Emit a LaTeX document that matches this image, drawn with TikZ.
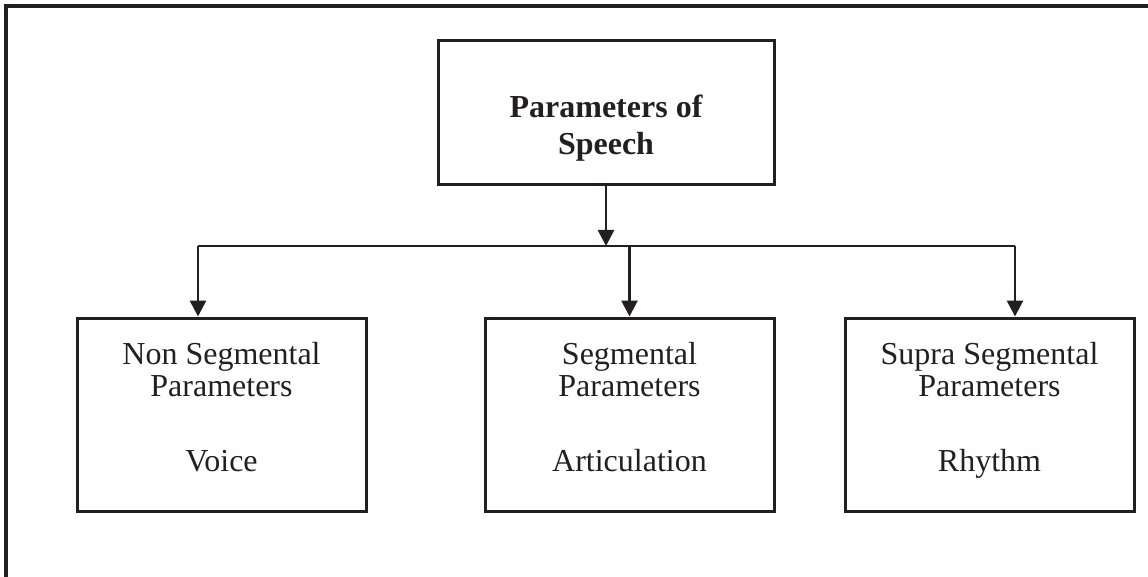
\documentclass[tikz,border=0pt]{standalone}
\usepackage{fontspec}
\setmainfont{Liberation Serif}
\usetikzlibrary{arrows.meta}
\definecolor{ink}{HTML}{231F20}
\begin{document}
\begin{tikzpicture}[x=1pt,y=-1pt,
  boxnode/.style={draw=ink, line width=3pt, inner sep=0pt, rectangle,
    minimum width=289pt, minimum height=193pt},
  topnode/.style={draw=ink, line width=3pt, inner sep=0pt, rectangle,
    minimum width=336pt, minimum height=144pt},
  lbl/.style={anchor=base, inner sep=0pt, text=ink,
    font=\fontsize{32}{36}\selectfont},
  boldlbl/.style={lbl, font=\fontsize{32}{36}\selectfont\bfseries},
  link/.style={draw=ink, line width=2.8pt},
  arr/.style={link, -{Triangle[width=16pt,length=16pt]}}]
\useasboundingbox (0,0) rectangle (1148,577);

% outer frame (top and left edges)
\draw[ink, line width=3.2pt] (6,577) -- (6,6) -- (1148,6);

% boxes
\node[topnode] (top) at (606,113) {};
\node[boxnode] (left) at (221.5,414.5) {};
\node[boxnode] (mid) at (629.5,414.5) {};
\node[boxnode] (right) at (989.5,414.5) {};

% labels
\node[boldlbl] (t1) at (606,118) {Parameters of};
\node[boldlbl] (t2) at (606,155) {Speech};

\node[lbl] (l1) at (221.5,364) {Non Segmental};
\node[lbl] (l2) at (221.5,396) {Parameters};
\node[lbl] (l3) at (221.5,471) {Voice};

\node[lbl] (m1) at (629.5,364) {Segmental};
\node[lbl] (m2) at (629.5,396) {Parameters};
\node[lbl] (m3) at (629.5,471) {Articulation};

\node[lbl] (r1) at (989.5,364) {Supra Segmental};
\node[lbl] (r2) at (989.5,396) {Parameters};
\node[lbl] (r3) at (989.5,471) {Rhythm};

% distribution bus
\coordinate (busL) at (198,246);
\coordinate (busM) at (629.5,246);
\coordinate (busR) at (1015,246);
\draw[link] (busL) -- (busR);

% connectors
\draw[arr] (top.south) -- (top.south |- busL);
\draw[arr] (busL) -- (busL |- left.north);
\draw[arr] (busM) -- (mid.north);
\draw[arr] (busR) -- (busR |- right.north);
\end{tikzpicture}
\end{document}
